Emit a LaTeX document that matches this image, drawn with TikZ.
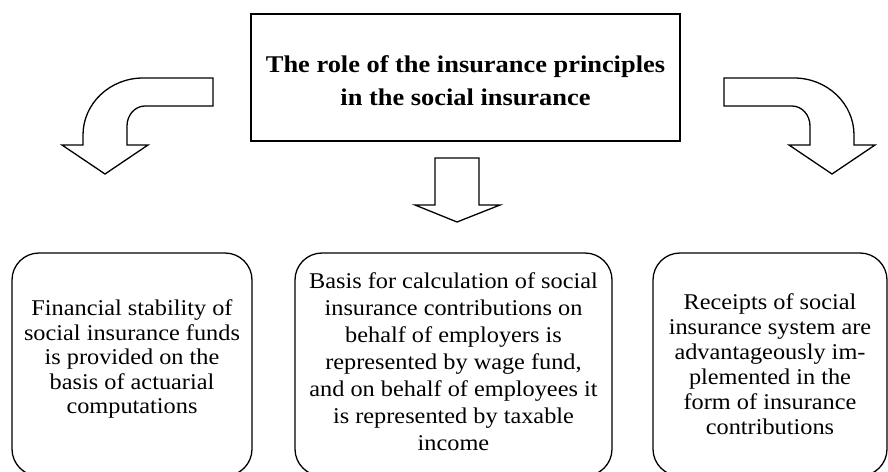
\documentclass[tikz,border=0pt]{standalone}
\usepackage{fontspec}
\setmainfont{Liberation Serif}
\newfontfamily\bodyfont[FakeStretch=1.08]{Liberation Serif}
\newfontfamily\titlefont[FakeStretch=1.1]{Liberation Serif}
\tikzset{
  outline/.style={draw=black,line width=1.3pt,line join=miter,fill=white},
  titlebox/.style={outline,inner sep=0pt,minimum width=429pt,minimum height=127pt},
  roundbox/.style={outline,rounded corners=27pt,inner sep=0pt,minimum height=223pt},
  titletxt/.style={align=center,inner sep=0pt,font=\titlefont\bfseries\fontsize{24}{33}\selectfont},
  bodytxt/.style={align=center,inner sep=0pt,font=\bodyfont\fontsize{22.5}{#1}\selectfont},
  bodytxt/.default=25
}
\begin{document}
\begin{tikzpicture}[x=1pt,y=-1pt]
\useasboundingbox (0,0) rectangle (888,471);
\clip (0,0) rectangle (888,471);

% title
\node[titlebox] (title) at (465.5,77.5) {};
\node[titletxt] (titletext) at (465.5,81) {The role of the insurance principles\\in the social insurance};

% left bent arrow
\draw[outline] (213,78) -- (143,78)
  .. controls (109.9,78) and (83,103.5) .. (83,135)
  -- (83,145) -- (62,145) -- (105,174) -- (148,145) -- (127,145) -- (127,126)
  .. controls (127,115) and (135,106) .. (145,106)
  -- (213,106) -- cycle;

% right bent arrow
\draw[outline] (724,78) -- (794,78)
  .. controls (827.1,78) and (854,103.5) .. (854,135)
  -- (854,145) -- (875,145) -- (832,174) -- (789,145) -- (810,145) -- (810,126)
  .. controls (810,115) and (802,106) .. (792,106)
  -- (724,106) -- cycle;

% middle arrow
\draw[outline] (435,158) -- (479,158) -- (479,205) -- (500,205) -- (457,222)
  -- (415,205) -- (435,205) -- cycle;

% bottom boxes
\node[roundbox,minimum width=240pt] (left) at (132,364.5) {};
\node[bodytxt=24.5] (lefttext) at (132,359) {Financial stability of\\social insurance funds\\is provided on the\\basis of actuarial\\computations};

\node[roundbox,minimum width=317pt] (mid) at (453.5,364.5) {};
\node[bodytxt=27] (midtext) at (453.5,362) {Basis for calculation of social\\insurance contributions on\\behalf of employers is\\represented by wage fund,\\and on behalf of employees it\\is represented by taxable\\income};

\node[roundbox,minimum width=234pt] (right) at (770,364.5) {};
\node[bodytxt=25] (righttext) at (770,364) {Receipts of social\\insurance system are\\advantageously im-\\plemented in the\\form of insurance\\contributions};
\end{tikzpicture}
\end{document}
